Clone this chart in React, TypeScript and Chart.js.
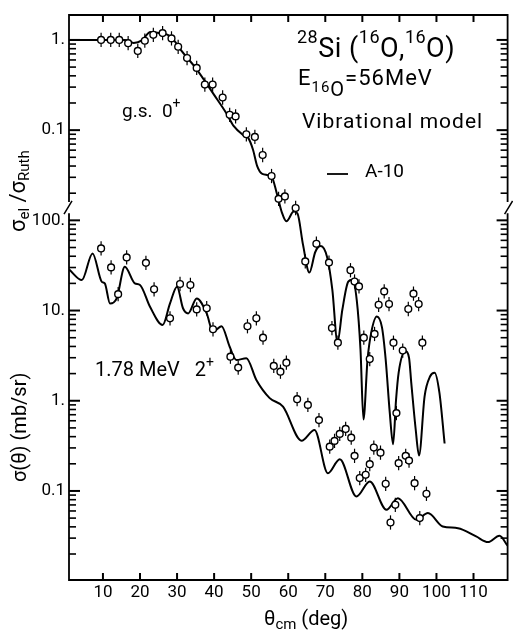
import React, { useEffect, useRef } from "react";
import { Chart, registerables } from "chart.js";

Chart.register(...registerables);

// The upper panel (sigma_el / sigma_Ruth) shares one log axis with the lower panel:
// a ratio of 1 is drawn where the lower panel would read 10^4 mb/sr.
const RUTH_TO_AXIS = 1e4;

const xTickValues = [10, 20, 30, 40, 50, 60, 70, 80, 90, 100, 110];
const yTickValues = [0.1, 1, 10, 100, 1000, 10000];
const yTickLabels = ["0.1", "1.", "10.", "100.", "0.1", "1."];
const yMin = 0.0103;
const yMax = 18900;

// g.s. 0+ elastic data (sigma_el / sigma_Ruth)
const gsTheta = [9.5, 12.1, 14.4, 16.8, 19.4, 21.3, 23.6, 26.1, 28.5, 30.3, 32.7, 35.3, 37.5, 39.6, 42.3, 44.2, 45.8, 48.7, 51.0, 53.1, 55.5, 57.4, 59.1, 62.0, 64.6, 67.6, 71.0, 71.8, 73.4, 76.8, 77.9, 79.1, 80.4, 82.0, 83.3, 84.4, 85.9, 87.2, 88.4, 89.2, 90.9, 92.4, 93.8, 95.2, 96.2];
const gsRatio = [1.0, 1.0, 1.0, 0.92, 0.755, 0.98, 1.14, 1.19, 1.04, 0.84, 0.63, 0.49, 0.32, 0.32, 0.23, 0.148, 0.142, 0.09, 0.084, 0.053, 0.031, 0.0173, 0.0184, 0.0137, 0.0035, 0.0055, 0.0034, 0.00064, 0.00044, 0.0028, 0.0021, 0.00185, 0.0005, 0.00029, 0.00055, 0.00116, 0.00163, 0.00118, 0.00044, 0.000073, 0.00036, 0.00104, 0.00154, 0.00118, 0.00044];

// vibrational model A-10, elastic
const gsFitTheta = [0.85, 10, 16, 18.3, 20.5, 22.8, 25, 27.5, 29.5, 31, 35, 40, 43.3, 45.2, 47.8, 49.2, 50.5, 51.6, 53, 55.5, 57, 58.3, 59.5, 61.5, 62.5, 64, 65.7, 67.3, 68.8, 70.5, 71.9, 73.3, 74.6, 76.2, 77.3, 78.5, 79.5, 80.3, 81.4, 82.4, 83.9, 85.3, 86.3, 87.4, 88.3, 89.1, 89.8, 91.6, 92.6, 93.2, 94.4, 95.3, 96.8, 98.3, 99.5, 100.8, 102.2];
const gsFitRatio = [1.0, 1.0, 1.0, 0.926, 0.987, 1.226, 1.195, 1.136, 0.95, 0.775, 0.49, 0.246, 0.154, 0.112, 0.0886, 0.082, 0.0606, 0.0402, 0.0328, 0.0305, 0.0193, 0.0122, 0.00975, 0.0125, 0.0119, 0.00534, 0.00264, 0.00446, 0.0052, 0.0039, 0.00171, 0.000445, 0.00102, 0.00209, 0.0022, 0.0013, 0.00037, 0.000062, 0.000286, 0.00057, 0.00086, 0.00065, 0.000286, 0.000074, 0.000033, 0.000103, 0.000205, 0.000353, 0.0003, 0.000159, 0.000048, 0.0000247, 0.000112, 0.000187, 0.000205, 0.000123, 0.0000336];

// 1.78 MeV 2+ inelastic data (mb/sr)
const exTheta = [9.5, 12.2, 14.1, 16.4, 21.6, 23.8, 28.1, 30.8, 33.6, 35.3, 38.0, 39.7, 44.4, 46.5, 49.0, 51.4, 53.2, 56.1, 57.9, 59.5, 62.4, 65.3, 68.3, 71.2, 72.5, 73.9, 75.5, 77.0, 77.9, 79.3, 80.9, 82.0, 83.1, 84.9, 86.3, 87.6, 88.9, 89.8, 91.7, 92.6, 94.1, 95.5, 97.3];
const exSigma = [48.8, 30.1, 15.2, 38.8, 33.8, 17.2, 8.2, 19.7, 19.2, 10.3, 10.6, 6.2, 3.08, 2.33, 6.7, 8.2, 5.0, 2.43, 2.1, 2.64, 1.04, 0.9, 0.61, 0.31, 0.359, 0.429, 0.487, 0.39, 0.245, 0.139, 0.151, 0.198, 0.303, 0.266, 0.12, 0.0447, 0.0702, 0.203, 0.245, 0.217, 0.122, 0.05, 0.093];

// vibrational model A-10, inelastic
const exFitTheta = [0.9, 4.3, 7.2, 9.7, 10.5, 11.9, 13.7, 15.9, 18.6, 20.0, 22.7, 26.1, 28.1, 30.0, 31.6, 33.0, 35.3, 38.0, 39.7, 42.0, 44.2, 46.0, 48.7, 51.4, 55.0, 58.6, 63.6, 67.1, 70.7, 73.9, 78.4, 82.0, 86.5, 89.6, 94.6, 97.7, 101.7, 105.8, 110.7, 113.9, 117.0, 119.2];
const exFitSigma = [28.5, 21.8, 43.0, 20.8, 20.0, 12.0, 13.6, 30.5, 20.0, 19.2, 11.0, 6.9, 12.0, 18.4, 10.6, 9.3, 13.6, 9.3, 5.8, 6.7, 3.97, 2.83, 2.96, 1.7, 1.07, 0.86, 0.361, 0.475, 0.157, 0.225, 0.0867, 0.127, 0.0618, 0.0832, 0.0479, 0.0568, 0.0404, 0.0387, 0.0313, 0.0271, 0.0318, 0.0247];

const ERR_FACTOR = 1.2;
const FONT = "Roboto";

type Seg = [string, number, number];

function drawRich(ctx: CanvasRenderingContext2D, x: number, y: number, segs: Seg[], spacing = 0) {
  let cx = x;
  for (const [t, size, dy] of segs) {
    ctx.font = `${size}px ${FONT}`;
    ctx.fillText(t, cx, y + dy);
    cx += ctx.measureText(t).width + spacing;
  }
  return cx;
}

// inward tick marks on all four sides, positioned through the chart's scales
function tickSegments(chart: any) {
  const { left, right, top, bottom } = chart.chartArea;
  const xs = chart.scales.x;
  const ys = chart.scales.y;
  const segs: number[][] = [];
  for (const v of xTickValues) {
    const px = xs.getPixelForValue(v);
    segs.push([px, top, px, top + 7, 2]);
    segs.push([px, bottom, px, bottom - 7, 2]);
  }
  for (let d = -2; d <= 4; d++) {
    for (let k = 1; k <= 9; k++) {
      const v = k * Math.pow(10, d);
      if (v < yMin || v > yMax) continue;
      const py = ys.getPixelForValue(v);
      const len = k === 1 ? 11 : 7;
      const w = k === 1 ? 2 : 1.6;
      segs.push([left, py, left + len, py, w]);
      segs.push([right, py, right - len, py, w]);
    }
  }
  return segs;
}

const framePlugin = {
  id: "frame",
  beforeDatasetsDraw(chart: any) {
    const ctx = chart.ctx as CanvasRenderingContext2D;
    const ys = chart.scales.y;
    const xs = chart.scales.x;
    ctx.save();
    ctx.strokeStyle = "#000";
    ctx.lineWidth = 1.2;
    const bars = (th: number[], v: number[], k: number) => {
      th.forEach((t, i) => {
        const px = xs.getPixelForValue(t);
        ctx.beginPath();
        ctx.moveTo(px, ys.getPixelForValue(v[i] * k * ERR_FACTOR));
        ctx.lineTo(px, ys.getPixelForValue((v[i] * k) / ERR_FACTOR));
        ctx.stroke();
      });
    };
    bars(gsTheta, gsRatio, RUTH_TO_AXIS);
    bars(exTheta, exSigma, 1);
    ctx.restore();
  },
  afterDraw(chart: any) {
    const ctx = chart.ctx as CanvasRenderingContext2D;
    const { left, right, top, bottom } = chart.chartArea;
    const ys = chart.scales.y;
    ctx.save();
    ctx.strokeStyle = "#000";
    ctx.fillStyle = "#000";
    for (const [x1, y1, x2, y2, w] of tickSegments(chart)) {
      ctx.lineWidth = w;
      ctx.beginPath();
      ctx.moveTo(x1, y1);
      ctx.lineTo(x2, y2);
      ctx.stroke();
    }

    const gapTop = ys.getPixelForValue(160);
    const gapBot = ys.getPixelForValue(120);
    // frame with axis break on both sides
    ctx.lineWidth = 1.8;
    ctx.beginPath();
    ctx.moveTo(left, gapTop);
    ctx.lineTo(left, top);
    ctx.lineTo(right, top);
    ctx.lineTo(right, gapTop);
    ctx.moveTo(left, gapBot);
    ctx.lineTo(left, bottom);
    ctx.lineTo(right, bottom);
    ctx.lineTo(right, gapBot);
    ctx.stroke();
    ctx.lineWidth = 1.5;
    ctx.beginPath();
    ctx.moveTo(left - 5, gapBot + 1);
    ctx.lineTo(left + 3, gapTop - 1);
    ctx.moveTo(right - 3, gapBot + 1);
    ctx.lineTo(right + 5, gapTop - 1);
    ctx.stroke();

    // annotations
    ctx.textBaseline = "alphabetic";
    ctx.textAlign = "left";
    ctx.letterSpacing = "0.5px";
    drawRich(ctx, 297, 57, [["28", 18, -14], ["Si", 27, 0], [" (", 27, 0], ["16", 18, -14], ["O", 27, 0], [",", 27, 0], ["16", 18, -14], ["O", 27, 0], [")", 27, 0]]);
    ctx.letterSpacing = "1px";
    drawRich(ctx, 298, 85, [["E", 22, 0], ["16", 15, 7], ["O", 20, 11], ["=56MeV", 22, 0]]);
    drawRich(ctx, 302, 128, [["Vibrational model", 21, 0]]);
    ctx.letterSpacing = "0px";
    ctx.lineWidth = 1.8;
    ctx.beginPath();
    ctx.moveTo(327, 174);
    ctx.lineTo(348, 174);
    ctx.stroke();
    drawRich(ctx, 365, 177, [["A-10", 19, 0]]);
    drawRich(ctx, 122, 117, [["g.s.  0", 19, 0], ["+", 14, -9]]);
    drawRich(ctx, 95, 376, [["1.78 MeV   2", 20, 0], ["+", 14, -9]]);

    // axis titles
    drawRich(ctx, 264, 625, [["θ", 20, 0], ["cm", 15, 4], [" (deg)", 20, 0]]);
    ctx.save();
    ctx.translate(25, 232);
    ctx.rotate(-Math.PI / 2);
    drawRich(ctx, 0, 0, [["σ", 22, 0], ["el", 15, 4], [" /", 22, 0], ["σ", 22, 0], ["Ruth", 15, 4]]);
    ctx.restore();
    ctx.save();
    ctx.translate(26, 482);
    ctx.rotate(-Math.PI / 2);
    drawRich(ctx, 0, 0, [["σ(θ) (mb/sr)", 20, 0]]);
    ctx.restore();
    ctx.restore();
  },
};

export default function App() {
  const ref = useRef<HTMLCanvasElement>(null);
  useEffect(() => {
    if (!ref.current) return;
    const pts = (th: number[], v: number[], k: number) => th.map((t, i) => ({ x: t, y: v[i] * k }));
    const lineStyle = {
      showLine: true,
      pointRadius: 0,
      borderColor: "#000",
      borderWidth: 2,
      cubicInterpolationMode: "monotone" as const,
      fill: false,
    };
    const pointStyle = {
      showLine: false,
      pointRadius: 3.4,
      pointBackgroundColor: "#fff",
      pointBorderColor: "#000",
      pointBorderWidth: 1.4,
    };
    const chart = new Chart(ref.current, {
      type: "scatter",
      data: {
        datasets: [
          { label: "A-10 g.s.", data: pts(gsFitTheta, gsFitRatio, RUTH_TO_AXIS), ...lineStyle, order: 4 },
          { label: "A-10 2+", data: pts(exFitTheta, exFitSigma, 1), ...lineStyle, order: 3 },
          { label: "g.s. 0+", data: pts(gsTheta, gsRatio, RUTH_TO_AXIS), ...pointStyle, order: 2 },
          { label: "1.78 MeV 2+", data: pts(exTheta, exSigma, 1), ...pointStyle, order: 1 },
        ],
      },
      options: {
        animation: false,
        responsive: false,
        maintainAspectRatio: false,
        layout: { padding: { left: 0, right: 5, top: 15, bottom: 0 } },
        plugins: { legend: { display: false }, tooltip: { enabled: false } },
        scales: {
          x: {
            type: "linear",
            min: 0.84,
            max: 119.2,
            grid: { display: false, drawTicks: false },
            border: { display: false },
            afterBuildTicks: (s: any) => {
              s.ticks = xTickValues.map((v) => ({ value: v }));
            },
            afterFit: (s: any) => {
              s.height = 51;
            },
            ticks: {
              color: "#000",
              font: { family: FONT, size: 17, lineHeight: 1 },
              padding: 4,
              maxRotation: 0,
              autoSkip: false,
            },
          },
          y: {
            type: "logarithmic",
            min: yMin,
            max: yMax,
            grid: { display: false, drawTicks: false },
            border: { display: false },
            afterBuildTicks: (s: any) => {
              s.ticks = yTickValues.map((v) => ({ value: v }));
            },
            afterFit: (s: any) => {
              s.width = 69;
            },
            ticks: {
              color: "#000",
              font: { family: FONT, size: 17 },
              padding: 4,
              autoSkip: false,
              callback: (_v: any, i: number) => yTickLabels[i],
            },
          },
        },
      },
      plugins: [framePlugin],
    });
    return () => chart.destroy();
  }, []);
  return (
    <div style={{ position: "absolute", left: 0, top: 0, width: 513, height: 631, background: "#fff" }}>
      <canvas ref={ref} width={513} height={631} style={{ display: "block" }} />
    </div>
  );
}
